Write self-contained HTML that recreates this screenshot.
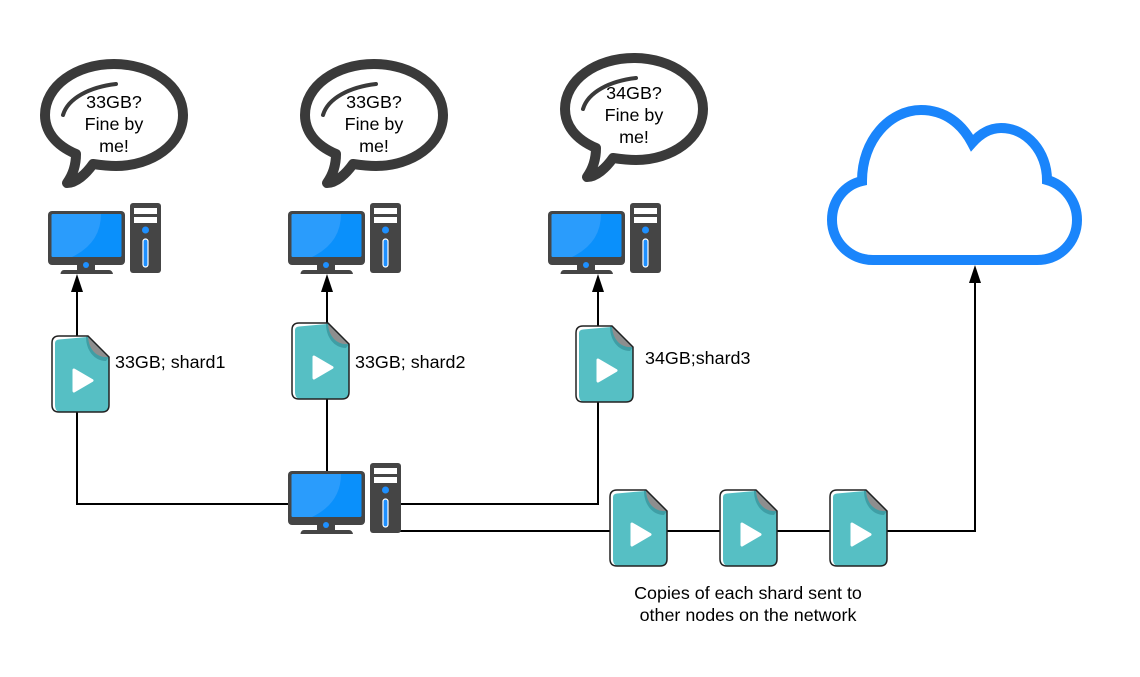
<!DOCTYPE html>
<html><head><meta charset="utf-8"><style>html,body{margin:0;padding:0;background:#fff}svg{display:block}text{font-family:"Liberation Sans",sans-serif;font-size:17.9px;fill:#000}</style></head><body>
<svg width="1140" height="677" viewBox="0 0 1140 677" xmlns="http://www.w3.org/2000/svg">
<defs>
<g id="pc">
<rect x="0" y="8" width="77" height="54" rx="4" fill="#454545"/>
<rect x="3.500" y="11" width="70" height="43" rx="1.500" fill="#0a90fb"/>
<path d="M3.500 12.500Q3.500 11 5 11H53Q53 40 24 54H5Q3.500 54 3.500 52.500Z" fill="#2a9cfc"/>
<path d="M29 60H47V67H61Q64 67 65 71H12.500Q13 67 16 67H29Z" fill="#454545"/>
<circle cx="38" cy="62" r="3" fill="#1e90ff"/>
<rect x="82" y="0" width="31" height="70" rx="3" fill="#454545"/>
<rect x="86" y="5" width="23" height="6" fill="#fff"/>
<rect x="86" y="14" width="23" height="6" fill="#fff"/>
<circle cx="97.500" cy="27" r="3.500" fill="#1e90ff"/>
<rect x="95" y="36" width="5" height="28" rx="2.500" fill="#1e90ff" stroke="#fff" stroke-width="1.200"/>
</g>
<g id="bubble">
<path d="M74 8C36 8 5 30 5 59C5 75 15 89 36 98C36 110 32 120 27 127C36 127 46 118 53 108C60 109 68 110 76 110C112 110 143 88 143 59C143 30 112 8 74 8Z" fill="#fff" stroke="#3a3a3a" stroke-width="10" stroke-linejoin="round"/>
<path d="M23 59C28 42 50 31 76 28" fill="none" stroke="#3a3a3a" stroke-width="4" stroke-linecap="round"/>
</g>
<g id="doc">
<path d="M7 0H36L57 21V69Q57 76 50 76H7Q0 76 0 69V7Q0 0 7 0Z" fill="#fff"/>
<path d="M3 7Q3 4 7 3.500L35 1L57 21V69Q57 76 50 76H9Q3 76 3 69Z" fill="#56bfc4"/>
<path d="M34 1C34 14 42 25 54 25L57 21L36 0Z" fill="#3f9ea5"/>
<path d="M36 1L56 21C45 22 37 14 36 1Z" fill="#8e8e8e"/>
<path d="M7 0H36L57 21V69Q57 76 50 76H7Q0 76 0 69V7Q0 0 7 0Z" fill="none" stroke="#222" stroke-width="1.500"/>
<path d="M22 34L40 44.500L22 55Z" fill="#fff" stroke="#fff" stroke-width="3" stroke-linejoin="round"/>
</g>
<path id="ah" d="M0 0L6 18H-6Z" fill="#000"/>
</defs>

<g fill="none" stroke="#000" stroke-width="2">
<path d="M77 285V504H290"/>
<path d="M327 285V472"/>
<path d="M598 285V504H400"/>
<path d="M400 531H975V275"/>
</g>
<use href="#ah" x="77" y="274"/>
<use href="#ah" x="327" y="274"/>
<use href="#ah" x="598" y="274"/>
<use href="#ah" x="975" y="265"/>

<path d="M873 260C850 260 832 242 832 220C832 200 845 185 862 181C862 140 890 110 921 110C945 110 962 124 972 143C980 134 990 128 1001 128C1027 128 1047 152 1047 180C1065 185 1077 202 1077 220C1077 242 1060 260 1037 260Z" fill="#fff" stroke="#1a85fb" stroke-width="10" stroke-linejoin="miter"/>

<use href="#bubble" x="40" y="56"/>
<use href="#bubble" x="300" y="56"/>
<use href="#bubble" x="560" y="50"/>

<use href="#pc" x="48" y="203"/>
<use href="#pc" x="288" y="203"/>
<use href="#pc" x="548" y="203"/>
<use href="#pc" x="288" y="463"/>

<use href="#doc" x="52" y="336"/>
<use href="#doc" x="292" y="323"/>
<use href="#doc" x="576" y="326"/>
<use href="#doc" x="610" y="490"/>
<use href="#doc" x="720" y="490"/>
<use href="#doc" x="830" y="490"/>

<g text-anchor="middle">
<text x="114" y="108">33GB?</text><text x="114" y="130">Fine by</text><text x="114" y="152">me!</text>
<text x="374" y="108">33GB?</text><text x="374" y="130">Fine by</text><text x="374" y="152">me!</text>
<text x="634" y="99">34GB?</text><text x="634" y="121">Fine by</text><text x="634" y="143">me!</text>
<text x="748" y="599">Copies of each shard sent to</text>
<text x="748" y="621">other nodes on the network</text>
</g>
<text x="115" y="368">33GB; shard1</text>
<text x="355" y="368">33GB; shard2</text>
<text x="645" y="364">34GB;shard3</text>
</svg>
</body></html>
